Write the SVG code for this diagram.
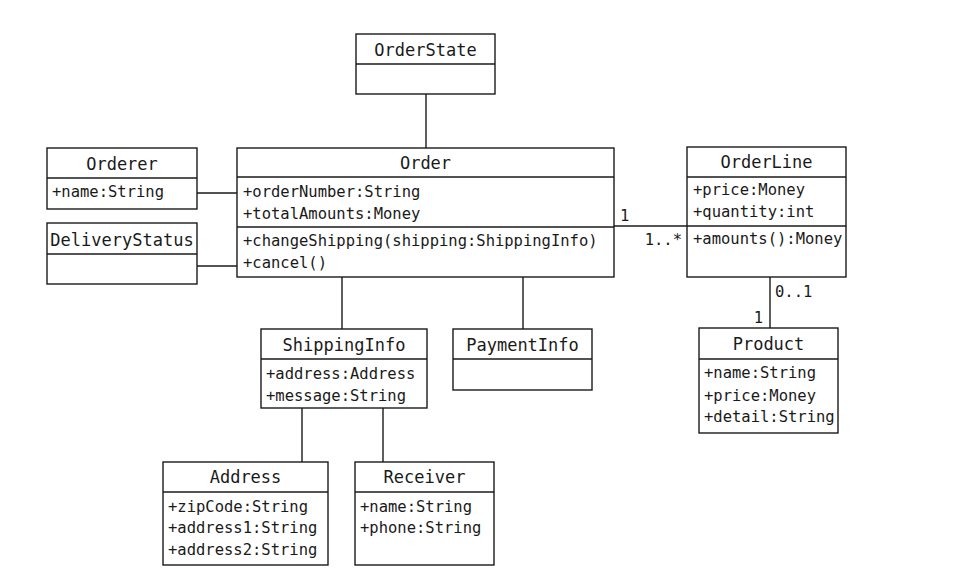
<svg xmlns="http://www.w3.org/2000/svg" width="958" height="584" viewBox="0 0 958 584">
<style>
.box{fill:#fff;stroke:#1a1a1a;stroke-width:1.4}
.ln{stroke:#1a1a1a;stroke-width:1.4;fill:none}
text{font-family:"DejaVu Sans Mono","Liberation Mono",monospace;font-size:15.5px;fill:#1a1a1a}
.t{text-anchor:middle;font-size:17px}
.m{font-size:15.5px}
</style>
<rect width="958" height="584" fill="#fff"/>
<g id="connectors">
<line class="ln" x1="426" y1="94" x2="426" y2="148"/>
<line class="ln" x1="197" y1="193" x2="237" y2="193"/>
<line class="ln" x1="197" y1="266" x2="237" y2="266"/>
<line class="ln" x1="614" y1="226" x2="687" y2="226"/>
<line class="ln" x1="342" y1="277" x2="342" y2="329"/>
<line class="ln" x1="523" y1="277" x2="523" y2="329"/>
<line class="ln" x1="770" y1="277" x2="770" y2="328"/>
<line class="ln" x1="302" y1="408" x2="302" y2="462"/>
<line class="ln" x1="383" y1="408" x2="383" y2="462"/>
<text class="m" x="620" y="221">1</text>
<text class="m" x="682" y="245" text-anchor="end">1..*</text>
<text class="m" x="775" y="297">0..1</text>
<text class="m" x="763" y="323" text-anchor="end">1</text>
</g>
<g id="OrderState">
<rect class="box" x="356" y="34" width="139" height="60"/>
<line class="ln" x1="356" y1="64" x2="495" y2="64"/>
<text class="t" x="425.5" y="56">OrderState</text>
</g>
<g id="Orderer">
<rect class="box" x="47" y="148" width="150" height="61"/>
<line class="ln" x1="47" y1="178" x2="197" y2="178"/>
<text class="t" x="122" y="170">Orderer</text>
<text x="52" y="197">+name:String</text>
</g>
<g id="DeliveryStatus">
<rect class="box" x="47" y="223" width="150" height="61"/>
<line class="ln" x1="47" y1="254" x2="197" y2="254"/>
<text class="t" x="122" y="246">DeliveryStatus</text>
</g>
<g id="Order">
<rect class="box" x="237" y="148" width="377" height="129"/>
<line class="ln" x1="237" y1="177" x2="614" y2="177"/>
<line class="ln" x1="237" y1="227" x2="614" y2="227"/>
<text class="t" x="425.5" y="169">Order</text>
<text x="243" y="197">+orderNumber:String</text>
<text x="243" y="219">+totalAmounts:Money</text>
<text x="243" y="246">+changeShipping(shipping:ShippingInfo)</text>
<text x="243" y="268">+cancel()</text>
</g>
<g id="OrderLine">
<rect class="box" x="687" y="147" width="159" height="130"/>
<line class="ln" x1="687" y1="177" x2="846" y2="177"/>
<line class="ln" x1="687" y1="226" x2="846" y2="226"/>
<text class="t" x="766.5" y="168">OrderLine</text>
<text x="693" y="195">+price:Money</text>
<text x="693" y="217">+quantity:int</text>
<text x="693" y="244">+amounts():Money</text>
</g>
<g id="ShippingInfo">
<rect class="box" x="261" y="329" width="166" height="79"/>
<line class="ln" x1="261" y1="359" x2="427" y2="359"/>
<text class="t" x="344" y="351">ShippingInfo</text>
<text x="266" y="379">+address:Address</text>
<text x="266" y="401">+message:String</text>
</g>
<g id="PaymentInfo">
<rect class="box" x="453" y="329" width="139" height="61"/>
<line class="ln" x1="453" y1="359" x2="592" y2="359"/>
<text class="t" x="522.5" y="351">PaymentInfo</text>
</g>
<g id="Product">
<rect class="box" x="699" y="328" width="139" height="105"/>
<line class="ln" x1="699" y1="359" x2="838" y2="359"/>
<text class="t" x="768.5" y="350">Product</text>
<text x="704" y="378">+name:String</text>
<text x="704" y="401">+price:Money</text>
<text x="704" y="422">+detail:String</text>
</g>
<g id="Address">
<rect class="box" x="163" y="462" width="165" height="103"/>
<line class="ln" x1="163" y1="492" x2="328" y2="492"/>
<text class="t" x="245.5" y="483">Address</text>
<text x="168" y="512">+zipCode:String</text>
<text x="168" y="533">+address1:String</text>
<text x="168" y="555">+address2:String</text>
</g>
<g id="Receiver">
<rect class="box" x="355" y="462" width="139" height="103"/>
<line class="ln" x1="355" y1="492" x2="494" y2="492"/>
<text class="t" x="424.5" y="483">Receiver</text>
<text x="360" y="512">+name:String</text>
<text x="360" y="533">+phone:String</text>
</g>
</svg>
